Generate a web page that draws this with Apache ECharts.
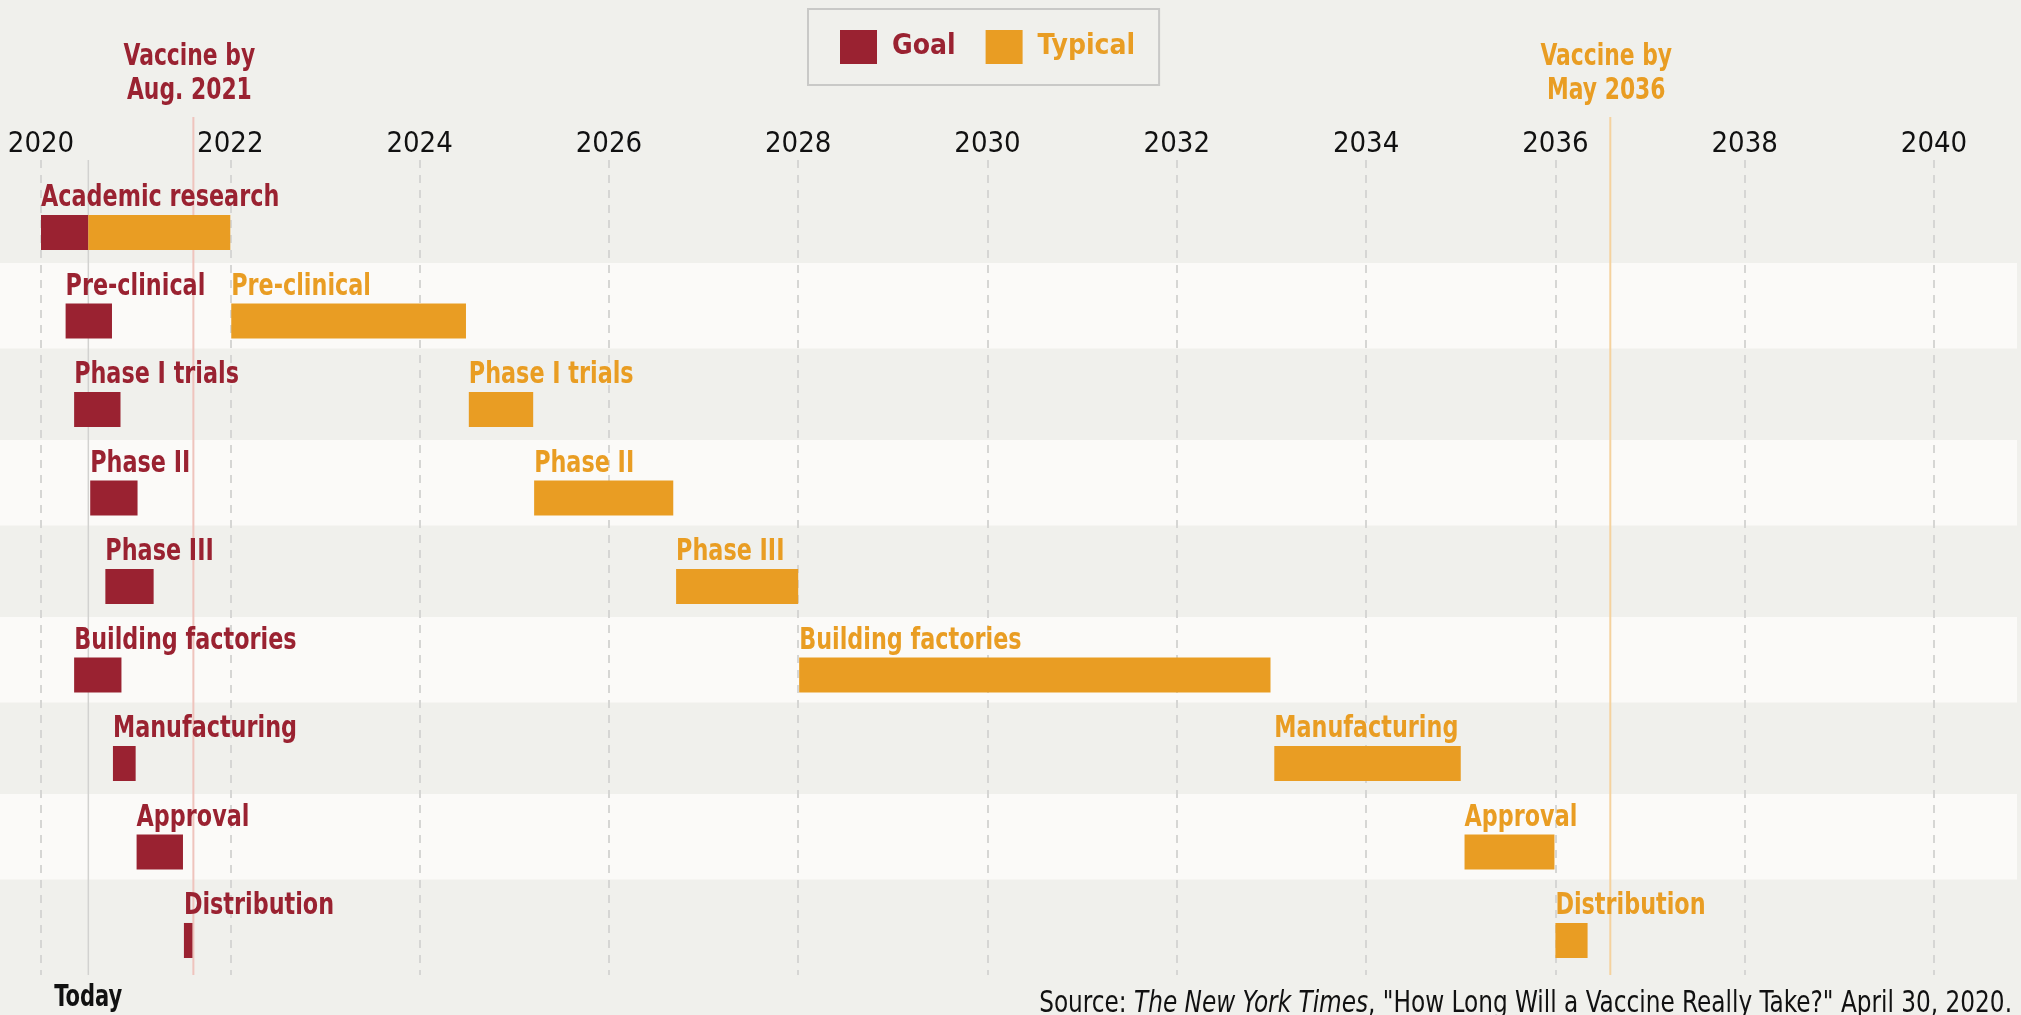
<!DOCTYPE html>
<html>
<head>
<meta charset="utf-8">
<script src="https://cdn.jsdelivr.net/npm/echarts@6/dist/echarts.min.js"></script>
<style>
  html, body { margin: 0; padding: 0; background: #f0f0ec; }
  #chart { width: 2021px; height: 1015px; }
</style>
</head>
<body>
<div id="chart"></div>
<script>
// stages, top to bottom
const categories = [
  'Academic research', 'Pre-clinical', 'Phase I trials', 'Phase II', 'Phase III',
  'Building factories', 'Manufacturing', 'Approval', 'Distribution'
]
// start / end of each stage, in years
const goalStart = [2020.0, 2020.26, 2020.35, 2020.52, 2020.68, 2020.35, 2020.76, 2021.01, 2021.51]
const goalEnd = [2020.5, 2020.75, 2020.84, 2021.02, 2021.19, 2020.85, 2021.0, 2021.5, 2021.6]
const typicalStart = [2020.5, 2022.01, 2024.52, 2025.21, 2026.71, 2028.01, 2033.03, 2035.04, 2036.0]
const typicalEnd = [2022.0, 2024.49, 2025.2, 2026.68, 2028.0, 2032.99, 2035.0, 2035.99, 2036.34]

// vertical reference lines
const markerYears = [2020.5, 2021.61, 2036.58]
const markerLabels = ['Today', 'Vaccine by\nAug. 2021', 'Vaccine by\nMay 2036']

const yearTicks = [2020, 2040, 2] // min, max, step

const GOAL = '#9a2231'
const TYPICAL = '#e99d23'
const FONT = '"DejaVu Sans Condensed", "Liberation Sans Narrow", "Noto Sans", sans-serif'
const SQUEEZE = 0.8 // the original face is narrower than anything installed

const chart = echarts.init(document.getElementById('chart'))

const makeBars = (color, hideFirstLabel) => (params, api) => {
  const row = api.value(0)
  const a = api.coord([api.value(1), row])
  const b = api.coord([api.value(2), row])
  const band = api.size([0, 1])[1]
  const h = band * 0.396
  const top = a[1] - h / 2
  const children = [{
    type: 'rect',
    shape: { x: a[0], y: top, width: b[0] - a[0], height: h },
    style: { fill: color }
  }]
  if (!(hideFirstLabel && row === 0)) {
    children.push({
      type: 'text',
      x: a[0],
      y: top - 17,
      scaleX: SQUEEZE,
      style: {
        x: 0, y: 0, text: categories[row], fill: color,
        fontFamily: FONT, fontSize: 31, fontWeight: 'bold',
        align: 'left', verticalAlign: 'middle'
      }
    })
  }
  return { type: 'group', children }
}

const rows = categories.map((c, i) => i)

chart.setOption({
  backgroundColor: '#f0f0ec',
  animation: false,
  grid: { left: 41, right: 87, top: 160, bottom: 40 },
  legend: {
    left: 808,
    top: 9,
    padding: [21, 24, 21, 32],
    itemGap: 30,
    itemWidth: 37,
    itemHeight: 34,
    icon: 'rect',
    borderColor: '#c9c9c7',
    borderWidth: 2,
    textStyle: { fontFamily: FONT, fontSize: 28, fontWeight: 'bold', padding: [2, 0, 0, 10] },
    data: [
      { name: 'Goal', textStyle: { color: GOAL } },
      { name: 'Typical', textStyle: { color: TYPICAL } }
    ]
  },
  xAxis: {
    type: 'value',
    position: 'top',
    min: yearTicks[0],
    max: yearTicks[1],
    interval: yearTicks[2],
    axisLine: { show: false },
    axisTick: { show: false },
    axisLabel: {
      margin: 16,
      verticalAlign: 'middle',
      color: '#111',
      fontFamily: FONT,
      fontSize: 29,
      formatter: v => String(v)
    },
    splitLine: {
      show: true,
      lineStyle: { color: '#d6d6d4', width: 2, type: [8, 7] }
    }
  },
  yAxis: {
    type: 'value',
    inverse: true,
    min: -0.82,
    max: 8.39,
    show: false,
    splitLine: { show: false }
  },
  graphic: [{
    type: 'text',
    x: 2012,
    y: 989,
    scaleX: 0.86,
    silent: true,
    style: {
      x: 0, y: 0, align: 'right', verticalAlign: 'top',
      text: '{n|Source: }{i|The New York Times}{n|, "How Long Will a Vaccine Really Take?" April 30, 2020.}',
      rich: {
        n: { fontFamily: FONT, fontSize: 30, fill: '#111' },
        i: { fontFamily: FONT, fontSize: 30, fontStyle: 'italic', fill: '#111' }
      }
    }
  }],
  series: [
    {
      // alternating light row bands
      type: 'custom',
      z: -1,
      silent: true,
      data: rows.filter(i => i % 2 === 1).map(i => [i]),
      renderItem: (params, api) => {
        const c = api.coord([yearTicks[0], api.value(0)])
        const band = api.size([0, 1])[1]
        const top = c[1] - band * 0.655
        return {
          type: 'rect',
          shape: { x: 0, y: top, width: api.getWidth() - 4, height: band * 0.966 },
          style: { fill: '#fbfaf8' }
        }
      }
    },
    {
      // today / goal / typical lines
      type: 'custom',
      z: 1,
      silent: true,
      data: markerYears.map((y, i) => [y, i]),
      renderItem: (params, api) => {
        const i = api.value(1)
        const x = api.coord([api.value(0), 0])[0]
        const bottom = api.coord([api.value(0), 8.39])[1]
        if (i === 0) {
          return {
            type: 'group',
            children: [
              { type: 'line', shape: { x1: x, y1: 160, x2: x, y2: bottom }, style: { stroke: '#d2d2d0', lineWidth: 1.5 } },
              {
                type: 'text',
                x: x,
                y: bottom + 8,
                scaleX: 0.78,
                style: {
                  x: 0, y: 0, text: markerLabels[i], fill: '#111',
                  fontFamily: FONT, fontSize: 30, fontWeight: 'bold',
                  align: 'center', verticalAlign: 'top'
                }
              }
            ]
          }
        }
        const color = i === 1 ? GOAL : TYPICAL
        const lineColor = i === 1 ? '#efc4bd' : '#f5d29e'
        return {
          type: 'group',
          children: [
            { type: 'line', shape: { x1: x, y1: 117, x2: x, y2: bottom }, style: { stroke: lineColor, lineWidth: 2 } },
            {
              type: 'text',
              x: x - 4,
              y: 108,
              scaleX: 0.81,
              style: {
                x: 0, y: 0, text: markerLabels[i], fill: color,
                fontFamily: FONT, fontSize: 30, fontWeight: 'bold', lineHeight: 34,
                align: 'center', verticalAlign: 'bottom'
              }
            }
          ]
        }
      }
    },
    {
      name: 'Goal',
      type: 'custom',
      z: 3,
      itemStyle: { color: GOAL },
      data: rows.map(i => [i, goalStart[i], goalEnd[i]]),
      renderItem: makeBars(GOAL, false)
    },
    {
      name: 'Typical',
      type: 'custom',
      z: 3,
      itemStyle: { color: TYPICAL },
      data: rows.map(i => [i, typicalStart[i], typicalEnd[i]]),
      renderItem: makeBars(TYPICAL, true)
    }
  ]
})
</script>
</body>
</html>
